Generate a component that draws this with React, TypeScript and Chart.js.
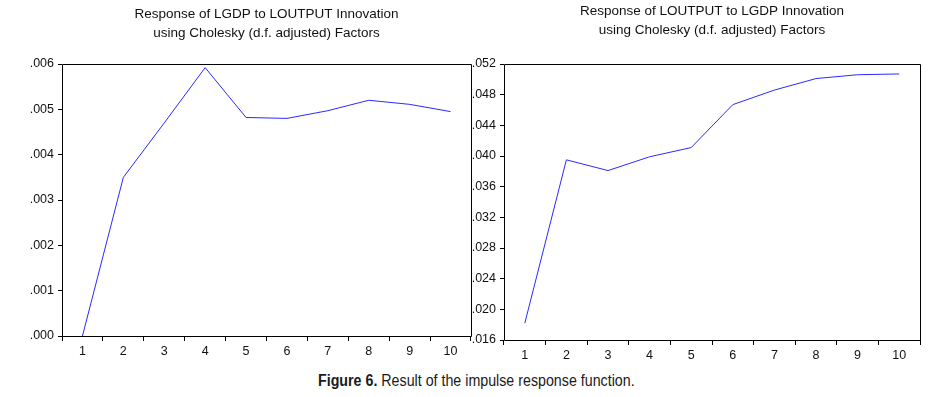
import React, { useEffect, useRef } from 'react';
import { Chart, registerables } from 'chart.js';

Chart.register(...registerables);

// ---- data ----
const periods = ['1', '2', '3', '4', '5', '6', '7', '8', '9', '10'];
const lgdpToLoutput = [0.0, 0.0035, 0.0047, 0.00592, 0.00482, 0.0048, 0.00497, 0.0052, 0.00511, 0.00495];
const loutputToLgdp = [0.0182, 0.0395, 0.0381, 0.0399, 0.0411, 0.0467, 0.0486, 0.0501, 0.0506, 0.0507];
const leftTitle = ['Response of LGDP to LOUTPUT Innovation', 'using Cholesky (d.f. adjusted) Factors'];
const rightTitle = ['Response of LOUTPUT to LGDP Innovation', 'using Cholesky (d.f. adjusted) Factors'];
const leftAxis = [0.0, 0.006, 0.001]; // min, max, step
const rightAxis = [0.016, 0.052, 0.004];
const captionBold = 'Figure 6.';
const captionText = ' Result of the impulse response function.';

const FONT = "'Liberation Sans', Arial, Helvetica, sans-serif";

const framePlugin = {
  id: 'frame',
  afterDatasetsDraw(chart: any) {
    const { ctx, chartArea } = chart;
    const a = (p: number) => Math.round(p - 0.5) + 0.5;
    const l = a(chartArea.left), r = a(chartArea.right), t = a(chartArea.top), b = a(chartArea.bottom);
    ctx.save();
    ctx.strokeStyle = '#000';
    ctx.lineWidth = 1;
    ctx.beginPath();
    ctx.moveTo(l, b);
    ctx.lineTo(l, t);
    ctx.lineTo(r, t);
    ctx.lineTo(r, b);
    ctx.closePath();
    ctx.stroke();
    ctx.restore();
  },
};

type PanelProps = {
  left: number;
  width: number;
  height: number;
  title: string[];
  values: number[];
  axis: number[];
  yWidth: number;
  padding: { left: number; right: number; top: number; bottom: number };
  titlePad: { top: number; bottom: number };
};

function Panel(props: PanelProps) {
  const ref = useRef<HTMLCanvasElement | null>(null);
  useEffect(() => {
    if (!ref.current) return;
    const fmt = (v: any) => Number(v).toFixed(3).replace(/^0/, '');
    const chart = new Chart(ref.current, {
      type: 'line',
      data: {
        labels: periods,
        datasets: [
          {
            data: props.values,
            borderColor: '#2a2aff',
            borderWidth: 1,
            pointRadius: 0,
            tension: 0,
            fill: false,
          },
        ],
      },
      options: {
        responsive: false,
        animation: false,
        devicePixelRatio: 1,
        layout: { padding: props.padding },
        plugins: {
          legend: { display: false },
          tooltip: { enabled: false },
          title: {
            display: true,
            fullSize: false,
            text: props.title,
            color: '#111',
            font: { family: FONT, size: 13.5, weight: 'normal', lineHeight: '19px' },
            padding: props.titlePad,
          },
        },
        scales: {
          x: {
            type: 'category',
            offset: true,
            grid: { offset: true, drawOnChartArea: false, drawTicks: true, tickLength: 5, color: '#000', lineWidth: 1 },
            border: { display: false },
            ticks: { color: '#111', font: { family: FONT, size: 12.5 }, padding: 3, maxRotation: 0, autoSkip: false },
            afterFit: (s: any) => {
              s.height = 25;
            },
          },
          y: {
            min: props.axis[0],
            max: props.axis[1],
            grid: { drawOnChartArea: false, drawTicks: true, tickLength: 4, color: '#000', lineWidth: 1 },
            border: { display: false },
            ticks: { stepSize: props.axis[2], color: '#111', font: { family: FONT, size: 12.5 }, padding: 4, callback: fmt },
            afterFit: (s: any) => {
              s.width = props.yWidth;
            },
          },
        },
      },
      plugins: [framePlugin],
    } as any);
    return () => chart.destroy();
  }, []);
  return (
    <canvas
      ref={ref}
      width={props.width}
      height={props.height}
      style={{ position: 'absolute', left: props.left, top: 0, width: props.width, height: props.height }}
    />
  );
}

export default function App() {
  useEffect(() => {
    document.body.style.margin = '0';
  }, []);
  return (
    <div style={{ position: 'relative', width: 939, height: 397, overflow: 'hidden', background: '#fff' }}>
      <Panel
        left={0}
        width={534}
        height={365}
        title={leftTitle}
        values={lgdpToLoutput}
        axis={leftAxis}
        yWidth={50}
        padding={{ left: 12, right: 63, top: 0, bottom: 4 }}
        titlePad={{ top: 4.5, bottom: 21.5 }}
      />
      <Panel
        left={470}
        width={477}
        height={365}
        title={rightTitle}
        values={loutputToLgdp}
        axis={rightAxis}
        yWidth={34}
        padding={{ left: 0, right: 27, top: 0, bottom: 0 }}
        titlePad={{ top: 2, bottom: 24 }}
      />
      <div
        style={{
          position: 'absolute',
          left: 318,
          top: 373,
          whiteSpace: 'nowrap',
          fontFamily: FONT,
          fontSize: 16,
          lineHeight: '16px',
          color: '#1a1a1a',
          transform: 'scaleX(0.89)',
          transformOrigin: 'left top',
        }}
      >
        <b>{captionBold}</b>
        {captionText}
      </div>
    </div>
  );
}
